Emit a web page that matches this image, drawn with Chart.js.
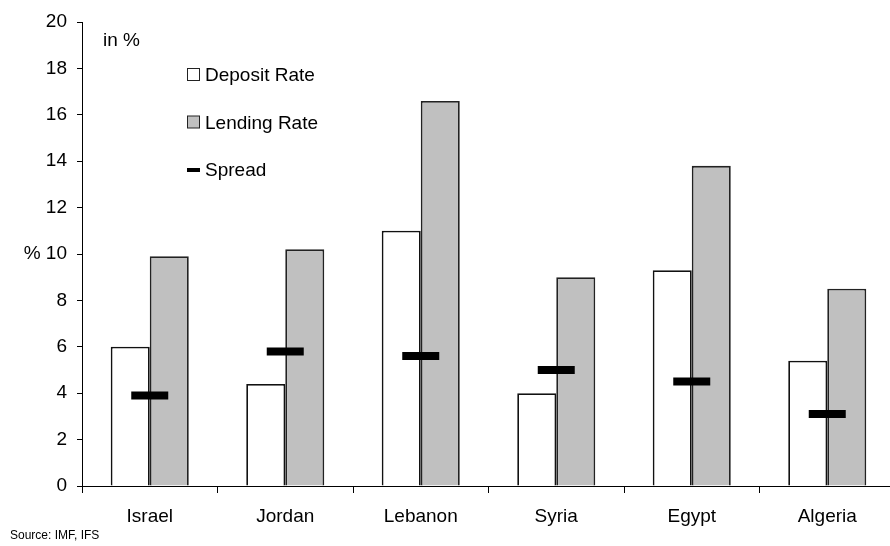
<!DOCTYPE html>
<html lang="en">
<head>
    <meta charset="UTF-8">
    <title>Deposit and Lending Rates</title>
    <script src="https://cdn.jsdelivr.net/npm/chart.js@4.4.1/dist/chart.umd.min.js"></script>
    <style>
        body, html {
            margin: 0;
            padding: 0;
            background-color: #FFFFFF;
            overflow: hidden;
        }
        #wrap {
            width: 890px;
            height: 546px;
            overflow: hidden;
        }
    </style>
</head>
<body>
    <div id="wrap">
        <canvas id="chart_div" width="895" height="546"></canvas>
    </div>
    <script>
        // Data
        const countries = ['Israel', 'Jordan', 'Lebanon', 'Syria', 'Egypt', 'Algeria'];
        const depositRate = [6.0, 4.4, 11.0, 4.0, 9.3, 5.4];
        const lendingRate = [9.9, 10.2, 16.6, 9.0, 13.8, 8.5];
        const spread = [3.9, 5.8, 5.6, 5.0, 4.5, 3.1];
        const yTicks = [0, 2, 4, 6, 8, 10, 12, 14, 16, 18, 20];

        const FONT = '"Liberation Sans", Arial, sans-serif';

        // Legend, unit note and source drawn on top of the chart
        const extras = {
            id: 'extras',
            afterDraw(chart) {
                const c = chart.ctx;
                c.save();
                c.fillStyle = '#000';
                c.textBaseline = 'middle';
                c.font = '19px ' + FONT;
                c.fillText('in %', 103, 41);

                const ds = chart.data.datasets;
                const rows = [75, 122.5, 170];
                [ds[0], ds[1], ds[2]].forEach((d, i) => {
                    const y = rows[i];
                    if (d.type === 'line') {
                        c.fillStyle = '#000';
                        c.fillRect(187, y - 2, 13, 4);
                    } else {
                        c.fillStyle = d.backgroundColor;
                        c.fillRect(187.5, y - 6.5, 12, 12);
                        c.strokeStyle = '#222';
                        c.lineWidth = 1;
                        c.strokeRect(187.5, y - 6.5, 12, 12);
                    }
                    c.fillStyle = '#000';
                    c.font = '19px ' + FONT;
                    c.fillText(d.label, 205, y + 1);
                });

                c.font = '12px ' + FONT;
                c.fillText('Source: IMF, IFS', 10, 536);
                c.restore();
            }
        };

        const ctx = document.getElementById('chart_div').getContext('2d');
        const chart = new Chart(ctx, {
            type: 'bar',
            data: {
                labels: countries,
                datasets: [
                    {
                        label: 'Deposit Rate',
                        data: depositRate,
                        backgroundColor: '#FFFFFF',
                        borderColor: '#111111',
                        borderWidth: 1.8,
                        barPercentage: 1,
                        categoryPercentage: 0.576,
                        order: 1
                    },
                    {
                        label: 'Lending Rate',
                        data: lendingRate,
                        backgroundColor: '#C0C0C0',
                        borderColor: '#222222',
                        borderWidth: 1.8,
                        barPercentage: 1,
                        categoryPercentage: 0.576,
                        order: 1
                    },
                    {
                        type: 'line',
                        label: 'Spread',
                        data: spread,
                        showLine: false,
                        pointStyle: 'line',
                        pointRadius: 18.5,
                        pointBorderWidth: 8,
                        borderColor: '#000000',
                        backgroundColor: '#000000',
                        order: 0
                    }
                ]
            },
            options: {
                responsive: false,
                animation: false,
                events: [],
                layout: {
                    autoPadding: false,
                    padding: { top: 22, right: 0, left: 0, bottom: 0 }
                },
                plugins: {
                    legend: { display: false },
                    tooltip: { enabled: false }
                },
                scales: {
                    x: {
                        grid: {
                            offset: true,
                            drawOnChartArea: false,
                            drawTicks: true,
                            tickLength: 7,
                            color: '#000'
                        },
                        border: { display: true, color: '#000', width: 1 },
                        ticks: {
                            color: '#000',
                            font: { family: FONT, size: 19 },
                            padding: 12,
                            maxRotation: 0
                        },
                        afterFit(scale) { scale.height = 60; }
                    },
                    y: {
                        min: 0,
                        max: 20,
                        afterBuildTicks(scale) {
                            scale.ticks = yTicks.map(v => ({ value: v }));
                        },
                        grid: {
                            drawOnChartArea: false,
                            drawTicks: true,
                            tickLength: 5,
                            color: '#000'
                        },
                        border: { display: true, color: '#000', width: 1 },
                        ticks: {
                            color: '#000',
                            font: { family: FONT, size: 19 },
                            padding: 10,
                            callback: v => (v === 10 ? '% 10' : String(v))
                        },
                        afterFit(scale) {
                            scale.width = 82;
                            scale.paddingTop = 0;
                            scale.paddingBottom = 0;
                        }
                    }
                }
            },
            plugins: [extras]
        });
    </script>
</body>
</html>
